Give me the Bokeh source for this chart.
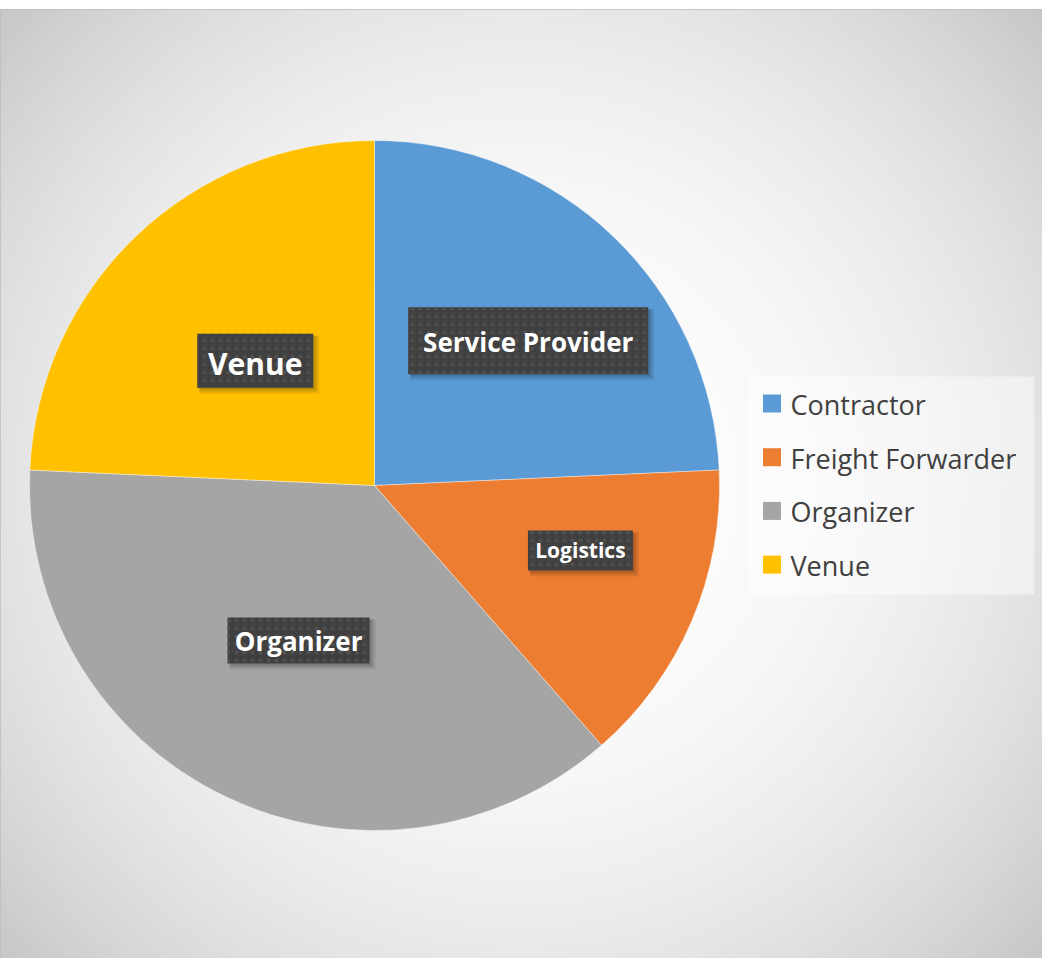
import numpy as np
from bokeh.plotting import figure
from bokeh.models import Range1d, ColumnDataSource
from bokeh.core.properties import value
from bokeh.embed import file_html
from bokeh.resources import INLINE

# ---- data ----
categories = ["Contractor", "Freight Forwarder", "Organizer", "Venue"]
counts = [17, 10, 26, 17]
slice_labels = ["Service Provider", "Logistics", "Organizer", "Venue"]
colors = ["#5B9BD5", "#ED7D31", "#A5A5A5", "#FFC000"]

# ---- layout constants (screen pixels) ----
W, H = 1042, 958
TOP = 9
CX, CY, R = 374, 485, 345

label_r = [0.612, 0.626, 0.50, 0.50]
label_dtheta = [-3.0, 5.6, -0.4, 0.0]
label_fs = [26, 21, 26, 30]
label_bw = [240, 105, 142, 116]
label_bh = [67, 40, 46, 54]

p = figure(width=W, height=H, x_range=Range1d(0, W), y_range=Range1d(-H, -TOP),
           output_backend="svg", toolbar_location=None, min_border=0, min_border_top=TOP,
           x_axis_location=None, y_axis_location=None)
p.grid.visible = False
p.outline_line_color = "#bdbdbd"
p.background_fill_color = "#e0e0e0"
p.border_fill_color = "white"

# ---- radial gradient background ----
step = 2
fh = H - TOP
xs = np.arange(0, W, step) + step / 2
ys = H - (np.arange(0, fh, step) + step / 2)
XX, YY = np.meshgrid(xs, ys)
d = np.hypot(XX - 520, YY - 483)
v = np.clip(255 - 23 * (d / 474) ** 2.25, 185, 255).astype(np.uint8)
img = np.empty(v.shape, dtype=np.uint32)
view = img.view(dtype=np.uint8).reshape(v.shape + (4,))
view[..., 0] = v
view[..., 1] = v
view[..., 2] = v
view[..., 3] = 255
p.image_rgba(image=[img], x=0, y=-H, dw=W, dh=fh)

# ---- pie ----
fr = np.array(counts, dtype=float) / sum(counts)
cum = np.concatenate([[0.0], np.cumsum(fr)])
start = np.pi / 2 - cum[:-1] * 2 * np.pi
end = np.pi / 2 - cum[1:] * 2 * np.pi
pie_src = ColumnDataSource(dict(start=start, end=end, color=colors, cat=categories))
p.wedge(x=CX, y=-CY, radius=R, start_angle="start", end_angle="end", direction="clock",
        fill_color="color", line_color="white", line_width=1, line_alpha=0.4, source=pie_src)

# ---- data labels ----
mid = (start + end) / 2 + np.radians(label_dtheta)
lx = CX + R * np.array(label_r) * np.cos(mid)
ly = CY - R * np.array(label_r) * np.sin(mid)
fs = np.array(label_fs, dtype=float)
bw = np.array(label_bw, dtype=float)
bh = np.array(label_bh, dtype=float)

for k, a in enumerate([0.10, 0.09, 0.08]):
    off = 2 + k
    grow = 2 * k
    p.rect(x=lx + off, y=-(ly + off), width=bw + grow, height=bh + grow,
           fill_color="black", fill_alpha=a, line_color=None)

p.rect(x=lx, y=-ly, width=bw, height=bh, fill_color="#404040", line_color=None,
       hatch_pattern="dot", hatch_color="#505050", hatch_scale=8, hatch_weight=1)

lab_src = ColumnDataSource(dict(x=lx, y=-(ly + 0.357 * fs + 1.5 - 10), text=slice_labels,
                                fs=[f"{int(s)}px" for s in fs]))
p.text(x="x", y="y", text="text", source=lab_src, text_font=value("Open Sans"),
       text_font_style="bold", text_font_size="fs", text_align="center",
       text_baseline="alphabetic", text_color="white")

# ---- legend (drawn manually) ----
p.quad(left=748, right=1034, top=-376, bottom=-594, fill_color="white", fill_alpha=0.45,
       line_color=None)
base = 413 + 53.7 * np.arange(len(categories))
p.rect(x=771.5, y=-(base - 10), width=18, height=18, fill_color=colors, line_color=None)
leg_src = ColumnDataSource(dict(x=[790] * len(categories), y=-(base - 9), text=categories))
p.text(x="x", y="y", text="text", source=leg_src, text_font=value("Open Sans"),
       text_font_size="27px", text_color="#404040", text_align="left",
       text_baseline="alphabetic")

open("out.html", "w").write(file_html(p, INLINE))
